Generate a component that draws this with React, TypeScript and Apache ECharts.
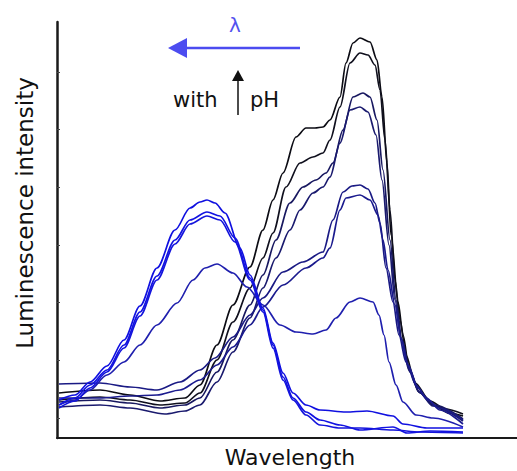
import React, { useEffect, useRef } from "react";
import * as echarts from "echarts";

// Wavelength (a.u.) / luminescence intensity (a.u.) readings for each spectrum
const blackHigh: number[][] = [
  [2, 45], [43, 48], [73, 43], [103, 37], [128, 40], [143, 53], [160, 93], [176, 133], [193, 171],
  [206, 208], [216, 238], [226, 265], [239, 301], [249, 310], [258, 310], [266, 311], [273, 318],
  [283, 341], [289, 375], [296, 395], [303, 400], [313, 396], [320, 378], [325, 341], [330, 275],
  [334, 203], [341, 136], [346, 103], [352, 70], [362, 46], [376, 33], [392, 25], [406, 22],
];
const blackLow: number[][] = [
  [2, 38], [43, 41], [73, 38], [103, 33], [128, 35], [143, 45], [160, 78], [176, 116], [193, 150],
  [206, 180], [216, 205], [229, 251], [243, 275], [256, 281], [266, 285], [273, 298], [283, 331],
  [293, 375], [303, 385], [311, 383], [318, 373], [323, 348], [328, 298], [333, 228], [338, 158],
  [343, 118], [349, 83], [358, 55], [373, 37], [388, 29], [406, 24],
];
const navyA: number[][] = [
  [2, 36], [43, 38], [73, 35], [103, 30], [128, 33], [143, 40], [160, 66], [176, 98], [193, 133],
  [206, 163], [219, 198], [233, 235], [246, 251], [259, 258], [269, 265], [276, 275], [286, 308],
  [296, 341], [306, 345], [313, 341], [320, 318], [326, 268], [333, 198], [339, 138], [345, 98],
  [353, 66], [363, 45], [378, 33], [406, 19],
];
const navyB: number[][] = [
  [2, 31], [43, 33], [73, 30], [108, 24], [128, 27], [143, 33], [160, 56], [176, 86], [193, 120],
  [206, 150], [219, 180], [233, 208], [243, 228], [256, 245], [266, 251], [273, 261], [283, 295],
  [293, 328], [303, 331], [311, 326], [319, 303], [325, 258], [332, 193], [338, 138], [344, 100],
  [352, 68], [362, 46], [376, 32], [406, 17],
];
const navyC: number[][] = [
  [2, 54], [43, 55], [73, 51], [100, 48], [123, 56], [143, 68], [158, 80], [176, 101], [193, 123],
  [206, 140], [226, 166], [246, 176], [266, 186], [276, 218], [286, 246], [295, 252], [303, 253],
  [311, 249], [318, 235], [323, 215], [329, 170], [336, 136], [342, 103], [349, 76], [359, 53],
  [369, 40], [382, 30], [406, 18],
];
const navyD: number[][] = [
  [2, 40], [43, 40], [73, 42], [100, 43], [123, 48], [143, 58], [160, 73], [176, 91], [193, 113],
  [206, 131], [226, 153], [249, 170], [266, 180], [273, 190], [283, 228], [289, 240], [303, 243],
  [313, 238], [321, 223], [326, 198], [331, 168], [338, 133], [344, 100], [351, 73], [361, 50],
  [371, 38], [383, 28], [406, 14],
];
const midBlue: number[][] = [
  [2, 33], [18, 38], [33, 48], [50, 63], [67, 76], [83, 93], [100, 113], [120, 135], [136, 158],
  [148, 170], [160, 174], [176, 165], [190, 151], [206, 133], [223, 113], [239, 106], [256, 104],
  [269, 108], [279, 120], [293, 136], [303, 140], [316, 136], [322, 123], [327, 103], [332, 76],
  [339, 53], [346, 36], [359, 23], [376, 20], [406, 11],
];
const blueA: number[][] = [
  [2, 38], [18, 43], [33, 56], [50, 72], [67, 98], [83, 132], [100, 170], [118, 208], [133, 230],
  [143, 236], [150, 238], [158, 235], [168, 225], [183, 190], [193, 163], [206, 130], [216, 95],
  [226, 65], [236, 45], [249, 33], [263, 28], [289, 26], [310, 27], [336, 22], [346, 14], [370, 10],
  [406, 10],
];
const blueB: number[][] = [
  [2, 33], [18, 40], [33, 53], [50, 68], [67, 93], [83, 126], [100, 162], [118, 198], [133, 218],
  [150, 226], [163, 222], [178, 200], [193, 160], [206, 128], [216, 93], [226, 61], [236, 40],
  [249, 26], [263, 18], [283, 13], [303, 8], [336, 11], [350, 5], [373, 7], [406, 6],
];
const blueC: number[][] = [
  [2, 30], [18, 37], [33, 50], [50, 66], [67, 90], [83, 122], [100, 158], [118, 194], [133, 214],
  [150, 222], [163, 218], [178, 196], [193, 158], [206, 126], [216, 90], [226, 58], [236, 38],
  [249, 23], [263, 13], [283, 10], [303, 10], [336, 8], [363, 6], [406, 5],
];

const yTickValues = [20, 77.7, 135.4, 193.1, 250.8, 308.5, 366.2];

const seriesList = [
  { name: "s1", data: blackHigh, color: "#0c0c14" },
  { name: "s2", data: blackLow, color: "#10101e" },
  { name: "s3", data: navyA, color: "#181860" },
  { name: "s4", data: navyB, color: "#1a1a6e" },
  { name: "s5", data: navyC, color: "#1a1a84" },
  { name: "s6", data: navyD, color: "#1b1b8e" },
  { name: "s7", data: midBlue, color: "#1f1fae" },
  { name: "s8", data: blueA, color: "#1010e0" },
  { name: "s9", data: blueB, color: "#1212e2" },
  { name: "s10", data: blueC, color: "#1414dc" },
];

const FONT = "DejaVu Sans";

export default function App() {
  const ref = useRef<HTMLDivElement>(null);
  useEffect(() => {
    if (!ref.current) return;
    const chart = echarts.init(ref.current, null, { renderer: "svg" });
    chart.setOption({
      animation: false,
      backgroundColor: "#ffffff",
      grid: { left: 57, right: 0, top: 22, bottom: 33 },
      xAxis: {
        type: "value",
        min: 0,
        max: 460,
        axisLine: { show: true, lineStyle: { color: "#1a1a1a", width: 2 } },
        axisTick: { show: false },
        axisLabel: { show: false },
        splitLine: { show: false },
      },
      yAxis: {
        type: "value",
        min: 0,
        max: 416,
        axisLine: { show: true, lineStyle: { color: "#1a1a1a", width: 2.5 } },
        axisTick: {
          show: true,
          inside: true,
          length: 3,
          customValues: yTickValues,
          lineStyle: { color: "#444", width: 1 },
        },
        axisLabel: { show: false },
        splitLine: { show: false },
      },
      series: seriesList.map((s) => ({
        type: "line",
        name: s.name,
        data: s.data,
        showSymbol: false,
        smooth: 0.3,
        smoothMonotone: "x",
        lineStyle: { color: s.color, width: 1.7 },
        z: 2,
      })),
      graphic: [
        {
          type: "text",
          x: 25,
          y: 213,
          rotation: Math.PI / 2,
          style: {
            text: "Luminescence intensity",
            font: `23px "${FONT}"`,
            fill: "#111",
            align: "center",
            verticalAlign: "middle",
          },
        },
        {
          type: "text",
          x: 290,
          y: 457,
          style: {
            text: "Wavelength",
            font: `22px "${FONT}"`,
            fill: "#111",
            align: "center",
            verticalAlign: "middle",
          },
        },
        {
          type: "text",
          x: 235,
          y: 25,
          style: {
            text: "λ",
            font: `20px "${FONT}"`,
            fill: "#5252ee",
            align: "center",
            verticalAlign: "middle",
          },
        },
        {
          type: "line",
          shape: { x1: 300, y1: 48, x2: 184, y2: 48 },
          style: { stroke: "#4c4cf0", lineWidth: 2.5 },
        },
        {
          type: "polygon",
          shape: { points: [[168, 48], [187, 38], [187, 58]] },
          style: { fill: "#4c4cf0" },
        },
        {
          type: "text",
          x: 173,
          y: 100,
          style: {
            text: "with",
            font: `21px "${FONT}"`,
            fill: "#111",
            align: "left",
            verticalAlign: "middle",
          },
        },
        {
          type: "line",
          shape: { x1: 238, y1: 115, x2: 238, y2: 80 },
          style: { stroke: "#111", lineWidth: 1.5 },
        },
        {
          type: "polygon",
          shape: { points: [[238, 70], [232, 81], [244, 81]] },
          style: { fill: "#111" },
        },
        {
          type: "text",
          x: 250,
          y: 100,
          style: {
            text: "pH",
            font: `21px "${FONT}"`,
            fill: "#111",
            align: "left",
            verticalAlign: "middle",
          },
        },
      ],
    });
    return () => chart.dispose();
  }, []);
  return (
    <div
      ref={ref}
      style={{ position: "absolute", left: 0, top: 0, width: 517, height: 471 }}
    />
  );
}
